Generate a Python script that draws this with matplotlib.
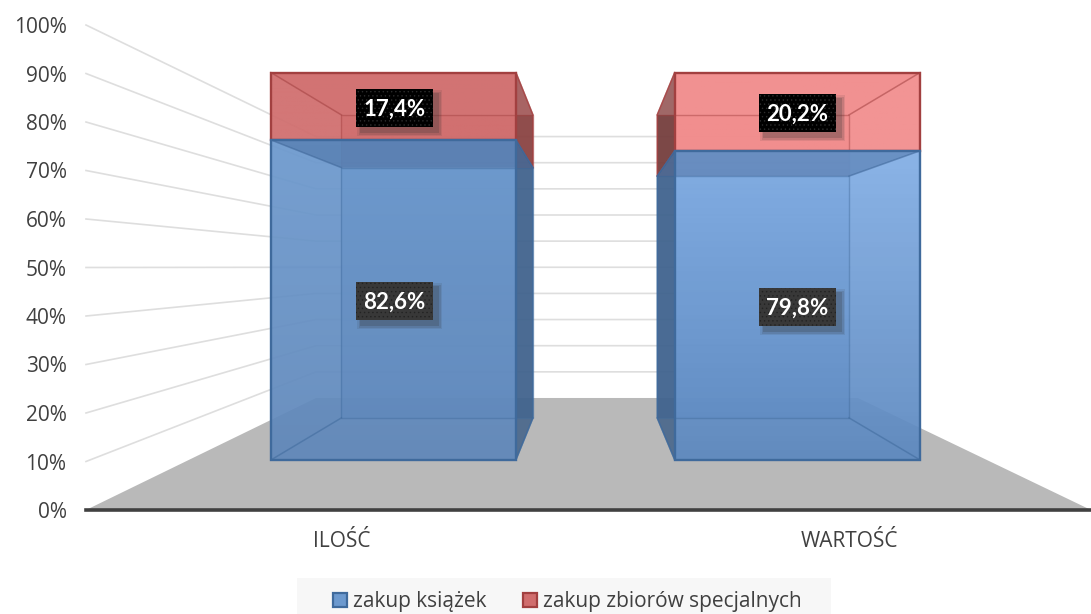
import matplotlib
matplotlib.use("Agg")
import matplotlib.pyplot as plt
from matplotlib.patches import Polygon, Rectangle
import numpy as np

W, H = 1091, 614
categories = ["ILOŚĆ", "WARTOŚĆ"]
series = ["zakup książek", "zakup zbiorów specjalnych"]
ksiazki = [82.6, 79.8]
zbiory = [17.4, 20.2]
y_ticks = [0, 10, 20, 30, 40, 50, 60, 70, 80, 90, 100]

# perspektywa: punkt zbiegu i skala dla glebokosci
VX, VY = 585, 267
S_FRONT, S_BAR_F, S_BAR_B, S_WALL = 1.0, 0.794, 0.621, 0.539
X0, X1 = 86, 1091
Y0, Y100 = 510, 25
BAR_V = 1.006
BACK_DX = 2
bar_x = [(189.5, 498), (698, 1007)]
cat_x = [342, 849]

blue = [("#6c99ce", "#5f87ba"), ("#82aee5", "#5c88bf")]
red = ["#d06d6d", "#f18c8c"]
red_side = ["#7d3a39", "#5e2f2e"]
blue_edge, red_edge = "#3f6a9c", "#a24040"


def proj(x, v, s):
    px = VX + s * (x - VX)
    py = VY + s * (Y0 + (Y100 - Y0) * v / 100 - VY)
    return px, py


def bar_pt(x, v, s):
    px, py = proj(x, v * BAR_V, s)
    if s == S_BAR_B:
        px += BACK_DX
    return px, py


plt.rcParams["font.family"] = ["Open Sans", "DejaVu Sans"]
plt.rcParams["hatch.linewidth"] = 0.5
fig = plt.figure(figsize=(W / 100, H / 100), dpi=100)
ax = fig.add_axes([0, 0, 1, 1])
ax.set_xlim(0, W)
ax.set_ylim(H, 0)
ax.axis("off")

# podloga
floor = [proj(X0, 0, S_FRONT), proj(X1, 0, S_FRONT), proj(X1, 0, S_WALL), proj(X0, 0, S_WALL)]
ax.add_patch(Polygon(floor, fc="#b9b9b9", ec="none", zorder=1))

# siatka
for v in y_ticks[1:]:
    a = proj(X0, v, S_FRONT)
    b = proj(X0, v, S_WALL)
    c = proj(X1 - 15, v, S_WALL)
    ax.plot([a[0], b[0], c[0]], [a[1], b[1], c[1]], color="#dedede", lw=1.2, zorder=2)


def gradient_face(pts, c_top, c_bot, alpha, z):
    poly = Polygon(pts, fc="none", ec="none", zorder=z)
    ax.add_patch(poly)
    xs = [p[0] for p in pts]
    ys = [p[1] for p in pts]
    t = np.linspace(0, 1, 64)[:, None]
    top = np.array(matplotlib.colors.to_rgb(c_top))
    bot = np.array(matplotlib.colors.to_rgb(c_bot))
    img = (top * (1 - t) + bot * t)[:, None, :]
    im = ax.imshow(img, extent=(min(xs), max(xs), max(ys), min(ys)), aspect="auto", alpha=alpha, zorder=z)
    im.set_clip_path(poly)
    ax.set_xlim(0, W)
    ax.set_ylim(H, 0)


def segment(xl, xr, v0, v1, front, edge, side, top_col, top_alpha, z, right_side):
    fl0, fr0 = bar_pt(xl, v0, S_BAR_F), bar_pt(xr, v0, S_BAR_F)
    fl1, fr1 = bar_pt(xl, v1, S_BAR_F), bar_pt(xr, v1, S_BAR_F)
    bl0, br0 = bar_pt(xl, v0, S_BAR_B), bar_pt(xr, v0, S_BAR_B)
    bl1, br1 = bar_pt(xl, v1, S_BAR_B), bar_pt(xr, v1, S_BAR_B)
    ax.add_patch(Polygon([bl0, br0, br1, bl1], fc=front[1], ec="none", alpha=0.7, zorder=z))
    # boczna sciana
    if right_side:
        s = [fr0, br0, br1, fr1]
    else:
        s = [fl0, bl0, bl1, fl1]
    ax.add_patch(Polygon(s, fc=side, ec=edge, lw=1.0, alpha=0.8, zorder=z + 0.1))
    gradient_face([fl0, fr0, fr1, fl1], front[0], front[1], 0.93, z + 0.2)
    ax.add_patch(Polygon([fl1, fr1, br1, bl1], fc=top_col, ec="none", alpha=top_alpha, zorder=z + 0.3))
    ax.add_patch(Polygon([bl0, br0, br1, bl1], fc="none", ec=edge, lw=1.0, alpha=0.45, zorder=z + 0.4))
    for a, b in [(fl0, bl0), (fr0, br0), (fl1, bl1), (fr1, br1)]:
        ax.plot([a[0], b[0]], [a[1], b[1]], color=edge, lw=1.1, alpha=0.55, zorder=z + 0.4)
    ax.add_patch(Polygon([fl0, fr0, fr1, fl1], fc="none", ec=edge, lw=1.7, zorder=z + 0.5))


for i in range(2):
    xl, xr = bar_x[i]
    right_side = i == 0
    r = red[i]
    segment(xl, xr, ksiazki[i], 100, (r, r), red_edge, red_side[i], r, 0.3, 3, right_side)
    segment(xl, xr, 0, ksiazki[i], blue[i], blue_edge, "#3a5c85", "#3d6396", 0.42, 4, right_side)


# etykiety danych
def label(x, y, txt, bg, dots):
    bw, bh = 77, 38
    for k, a in zip([6, 4.5, 3], [0.10, 0.14, 0.2]):
        ax.add_patch(Rectangle((x - bw / 2 + 5 - k + 2, y - bh / 2 + 5 - k + 2), bw + 2 * k - 4, bh + 2 * k - 4,
                               fc="#303030", ec="none", alpha=a, zorder=9))
    ax.add_patch(Rectangle((x - bw / 2, y - bh / 2), bw, bh, fc=bg, ec=dots, lw=0, hatch="....", zorder=10))
    ax.text(x, y + 1, txt, ha="center", va="center", color="white", fontsize=16, fontweight="bold",
            family=["Lato", "DejaVu Sans"], zorder=11)


label_pos = [(394.5, 301), (797.5, 307)]
label_pos2 = [(394.5, 108), (797.5, 113)]
for i in range(2):
    label(*label_pos[i], f"{ksiazki[i]:.1f}%".replace(".", ","), "#383838", "#232323")
    label(*label_pos2[i], f"{zbiory[i]:.1f}%".replace(".", ","), "#000000", "#2c2c2c")

# osie: wartosci i kategorie
ax2 = fig.add_axes([X0 / W, 1 - Y0 / H, (X1 - X0) / W, (Y0 - Y100) / H], facecolor="none")
ax2.set_xlim(X0, X1)
ax2.set_ylim(0, 100)
ax2.set_yticks(y_ticks)
ax2.set_yticklabels([f"{v}%" for v in y_ticks])
ax2.set_xticks(cat_x)
ax2.set_xticklabels(categories)
ax2.tick_params(axis="y", length=0, pad=14, labelsize=15, labelcolor="#404040")
ax2.tick_params(axis="x", length=0, pad=15, labelsize=15, labelcolor="#404040")
for sp in ["left", "right", "top"]:
    ax2.spines[sp].set_visible(False)
ax2.spines["bottom"].set_color("#404040")
ax2.spines["bottom"].set_linewidth(2.6)

# legenda
ax.add_patch(Rectangle((297, 578), 534, 36, fc="#f7f7f7", ec="none", zorder=0.5))
handles = [Rectangle((0, 0), 1, 1, fc="#6c99ce", ec=blue_edge, lw=1.6),
           Rectangle((0, 0), 1, 1, fc="#d06d6d", ec=red_edge, lw=1.6)]
fig.legend(handles, series, loc="center", bbox_to_anchor=(567.5 / W, 1 - 602 / H), ncol=2, frameon=False,
           fontsize=15, labelcolor="#404040", handlelength=0.65, handleheight=0.65, handletextpad=0.3,
           columnspacing=1.78, borderpad=0)

fig.savefig("out.png", dpi=100)
